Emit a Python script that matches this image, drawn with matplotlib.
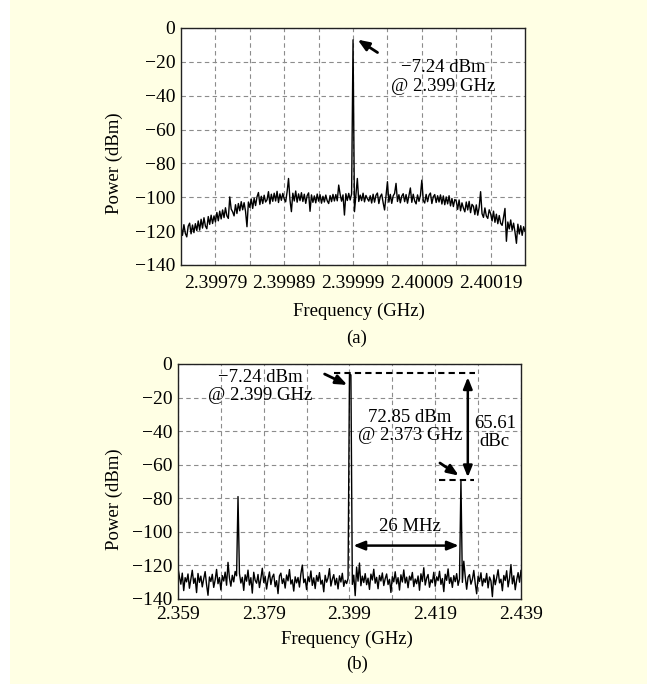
import numpy as np
import matplotlib
matplotlib.use('Agg')
import matplotlib.pyplot as plt
from matplotlib.patches import Rectangle

plt.rcParams['font.family'] = ['Liberation Serif', 'DejaVu Serif']
plt.rcParams['font.size'] = 13.5

# ---- data: spectrum (a), zoomed around the carrier -------------------------
fa_start, fa_stop = 2.39974, 2.40024
pa = [-117.0, -122.5, -116.2, -121.3, -123.4, -117.1, -115.3, -121.6, -116.4, -120.9, -115.6, -119.7,
      -114.0, -119.4, -113.0, -118.2, -112.1, -117.0, -118.6, -111.4, -116.0, -110.6, -115.5, -111.0,
      -114.6, -109.0, -113.9, -108.2, -112.8, -107.5, -112.0, -106.2, -111.0, -112.5, -99.8, -107.0,
      -108.6, -111.0, -104.4, -109.6, -103.7, -108.0, -102.6, -107.4, -103.2, -108.3, -117.4, -102.8,
      -106.0, -101.0, -106.6, -100.5, -104.9, -99.8, -97.2, -104.3, -99.4, -103.7, -98.8, -102.8,
      -101.5, -96.7, -103.9, -98.2, -102.4, -97.6, -102.2, -96.5, -103.1, -98.0, -101.8, -97.7,
      -101.0, -102.7, -96.8, -88.9, -101.6, -108.5, -97.6, -102.2, -96.3, -102.9, -98.0, -102.0,
      -97.3, -102.5, -98.2, -103.6, -99.0, -97.4, -108.3, -98.6, -103.0, -99.2, -103.3, -98.1,
      -102.3, -98.5, -103.5, -99.4, -102.8, -98.7, -102.1, -103.7, -99.0, -102.6, -98.3, -102.2,
      -98.4, -102.1, -92.8, -98.2, -102.3, -98.6, -110.5, -97.9, -101.9, -97.7, -101.6, -98.0,
      -7.0, -108.5, -99.0, -88.9, -102.5, -98.7, -102.0, -97.6, -102.7, -98.9, -100.8, -102.3,
      -99.1, -103.4, -98.2, -102.9, -98.8, -97.5, -103.7, -99.6, -98.1, -103.2, -107.5, -99.0,
      -90.8, -102.9, -98.3, -103.6, -99.2, -97.7, -91.8, -102.5, -98.5, -103.3, -99.3, -97.9,
      -102.6, -98.4, -103.5, -98.9, -94.5, -103.0, -98.2, -102.2, -103.9, -98.6, -102.4, -99.0,
      -89.9, -101.9, -103.4, -98.3, -102.6, -98.8, -97.5, -103.7, -99.7, -98.4, -103.1, -99.1,
      -102.8, -98.6, -104.0, -99.2, -104.4, -99.8, -103.9, -99.1, -105.1, -100.7, -105.5, -101.3,
      -102.2, -107.2, -101.6, -108.0, -103.3, -106.4, -108.6, -102.8, -107.5, -102.4, -109.1, -104.2,
      -105.3, -110.2, -104.5, -110.6, -105.9, -96.7, -109.7, -111.9, -106.3, -111.1, -112.5, -107.4,
      -109.7, -114.0, -108.2, -114.8, -110.0, -115.6, -110.8, -115.4, -116.6, -111.8, -106.6, -126.0,
      -114.6, -118.7, -113.4, -119.5, -115.3, -120.6, -127.2, -115.9, -121.7, -116.8, -122.5, -117.4,
      -120.1]
xticks_a = [2.39979, 2.39984, 2.39989, 2.39994, 2.39999, 2.40004, 2.40009, 2.40014, 2.40019]
xlabels_a = ['2.39979', '', '2.39989', '', '2.39999', '', '2.40009', '', '2.40019']

# ---- data: spectrum (b), wide span ------------------------------------------
fb_start, fb_stop = 2.359, 2.439
pb = [-121.5, -126.8, -131.2, -124.6, -135.0, -127.3, -129.8, -125.1, -133.6, -128.4, -122.9, -130.7,
      -127.6, -136.2, -124.8, -130.1, -126.4, -132.8, -128.0, -123.7, -131.5, -137.8, -126.9, -129.6,
      -125.3, -133.1, -128.7, -122.4, -130.9, -127.2, -134.6, -126.1, -129.3, -124.0, -131.8, -118.2,
      -127.5, -132.4, -125.9, -129.8, -123.6, -126.2, -79.0, -124.8, -130.5, -127.1, -134.9, -125.6,
      -129.4, -122.8, -131.7, -127.3, -136.5, -124.1, -128.9, -130.6, -125.4, -133.2, -127.8, -121.7,
      -130.2, -126.5, -134.1, -128.3, -123.9, -131.4, -127.0, -125.2, -132.7, -129.1, -136.8, -126.3,
      -124.6, -130.8, -127.9, -133.5, -125.7, -129.2, -122.5, -131.1, -128.6, -135.3, -126.8, -130.4,
      -127.2, -132.9, -125.0, -119.8, -130.3, -128.1, -134.4, -126.6, -129.7, -123.3, -131.9, -127.4,
      -133.8, -126.0, -129.5, -124.3, -131.2, -128.8, -135.7, -125.9, -130.0, -127.5, -121.9, -132.3,
      -128.2, -125.5, -131.6, -127.7, -134.0, -126.2, -129.9, -124.7, -132.5, -128.9, -130.8, -127.8,
      -6.0, -6.5, -131.3, -125.8, -138.0, -121.0, -129.4, -118.6, -132.1, -126.4, -130.2, -124.9,
      -131.5, -127.6, -134.3, -125.2, -128.7, -122.3, -130.6, -127.1, -133.9, -126.0, -129.3, -124.5,
      -132.0, -127.9, -125.1, -131.4, -128.3, -136.1, -126.7, -129.8, -123.8, -131.0, -127.3, -134.7,
      -125.6, -129.9, -122.7, -130.5, -127.0, -133.3, -126.4, -128.8, -124.2, -132.6, -128.1, -130.9,
      -126.3, -134.8, -125.0, -129.6, -121.4, -131.7, -127.6, -125.4, -133.0, -128.5, -130.3, -124.1,
      -132.4, -126.8, -129.1, -123.5, -131.3, -127.8, -135.6, -125.3, -128.9, -122.1, -130.7, -127.2,
      -133.1, -126.1, -129.7, -124.9, -131.9, -128.0, -69.0, -130.1, -117.5, -126.6, -134.2, -127.0,
      -125.5, -131.2, -128.4, -123.0, -130.8, -136.9, -126.5, -129.5, -124.4, -132.2, -127.9, -130.1,
      -124.8, -133.4, -126.9, -129.2, -138.6, -125.7, -131.5, -127.4, -122.6, -130.4, -128.2, -135.1,
      -126.0, -129.0, -123.2, -132.8, -127.7, -119.5, -131.0, -126.2, -134.5, -128.6, -124.3, -130.0,
      -123.0]
xticks_b = [2.359, 2.369, 2.379, 2.389, 2.399, 2.409, 2.419, 2.429, 2.439]
xlabels_b = ['2.359', '', '2.379', '', '2.399', '', '2.419', '', '2.439']

yticks = [0, -20, -40, -60, -80, -100, -120, -140]

fa = np.linspace(fa_start, fa_stop, len(pa))
fb = np.linspace(fb_start, fb_stop, len(pb))

fig = plt.figure(figsize=(6.47, 6.84), dpi=100, facecolor='white')
fig.patches.append(Rectangle((10/647, 0), 1 - 10/647, 1, transform=fig.transFigure,
                             facecolor='#FFFFE4', edgecolor='none', zorder=-10))

ax1 = fig.add_axes([0.2798, 0.6126, 0.5317, 0.3465])
ax2 = fig.add_axes([0.2751, 0.1243, 0.5301, 0.3436])

def style(ax, xt, xl, xlim, xpad):
    ax.set_facecolor('white')
    ax.set_xlim(xlim)
    ax.set_ylim(-140, 0)
    ax.set_xticks(xt)
    ax.set_xticklabels(xl)
    ax.set_yticks(yticks)
    ax.tick_params(length=0, labelsize=14)
    ax.tick_params(axis='x', pad=xpad)
    ax.tick_params(axis='y', pad=4)
    ax.grid(True, color='#8c8c8c', linestyle=(0, (4, 3)), linewidth=0.8)
    for s in ax.spines.values():
        s.set_linewidth(1.0)
        s.set_color('#222222')

arrow1 = dict(arrowstyle='-|>,head_length=0.5,head_width=0.2',
              lw=2, color='black', shrinkA=0, shrinkB=0)
arrow2 = dict(arrowstyle='<|-|>,head_length=0.5,head_width=0.2',
              lw=1.8, color='black', shrinkA=0, shrinkB=0)

ax1.plot(fa, pa, color='black', lw=1.0)
style(ax1, xticks_a, xlabels_a, (fa_start, fa_stop), 7)
ax1.set_xlabel('Frequency (GHz)', va='top')
ax1.xaxis.set_label_coords(0.516, -0.159)
ax1.set_ylabel('Power (dBm)', va='center')
ax1.yaxis.set_label_coords(-0.195, 0.43)
ax1.annotate('', xy=(2.3999967, -6.9), xytext=(2.4000256, -14.5), arrowprops=arrow1)
ax1.text(2.400121, -29, '\u22127.24 dBm\n@ 2.399 GHz', ha='center', va='center',
         linespacing=1.1)

ax2.plot(fb, pb, color='black', lw=1.0)
style(ax2, xticks_b, xlabels_b, (fb_start, fb_stop), 5)
ax2.set_xlabel('Frequency (GHz)', va='top')
ax2.xaxis.set_label_coords(0.494, -0.133)
ax2.set_ylabel('Power (dBm)', va='center')
ax2.yaxis.set_label_coords(-0.187, 0.426)

ax2.text(2.3782, -13.5, '\u22127.24 dBm\n@ 2.399 GHz', ha='center', va='center',
         linespacing=1.1)
ax2.annotate('', xy=(2.3985, -12.5), xytext=(2.3932, -6.0), arrowprops=arrow1)
ax2.plot([2.3954, 2.4283], [-5.6, -5.6], color='black', lw=1.5, linestyle=(0, (3, 2)))
ax2.plot([2.4198, 2.4280], [-69.1, -69.1], color='black', lw=1.5, linestyle=(0, (3, 2)))
ax2.annotate('', xy=(2.4266, -7.9), xytext=(2.4266, -67.5), arrowprops=arrow2)
ax2.text(2.4329, -40.7, '65.61\ndBc', ha='center', va='center', linespacing=1.1)
ax2.text(2.4131, -37.2, '72.85 dBm\n@ 2.373 GHz', ha='center', va='center',
         linespacing=1.1)
ax2.annotate('', xy=(2.4245, -66.5), xytext=(2.4201, -59), arrowprops=arrow1)
ax2.annotate('', xy=(2.4245, -108.2), xytext=(2.3999, -108.2), arrowprops=arrow2)
ax2.text(2.4130, -96.9, '26 MHz', ha='center', va='center')

fig.text(0.5518, 1 - 338/684, '(a)', ha='center', va='center')
fig.text(0.5518, 1 - 664/684, '(b)', ha='center', va='center')

fig.savefig('out.png', dpi=100, facecolor=fig.get_facecolor())
